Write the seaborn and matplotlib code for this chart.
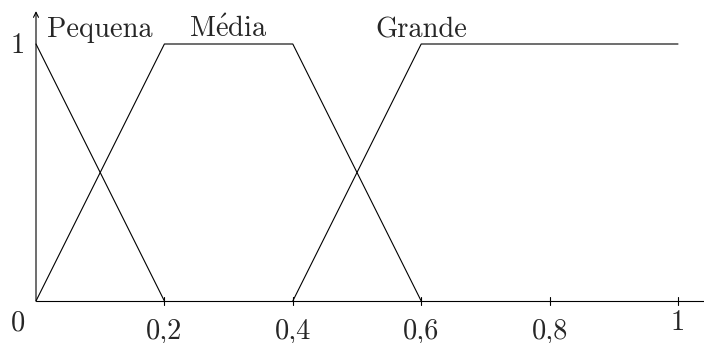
import matplotlib
matplotlib.use("Agg")
import matplotlib.pyplot as plt
import seaborn as sns
import pandas as pd

# Membership functions of the three fuzzy sets
pequena_x = [0.0, 0.2]
pequena_y = [1.0, 0.0]
media_x = [0.0, 0.2, 0.4, 0.6]
media_y = [0.0, 1.0, 1.0, 0.0]
grande_x = [0.4, 0.6, 1.0]
grande_y = [0.0, 1.0, 1.0]

set_names = ["Pequena", r"$\mathrm{M\acute{e}dia}$", "Grande"]
set_label_x = [0.1, 0.3, 0.6]

x_ticks = [0.2, 0.4, 0.6, 0.8, 1.0]
x_tick_labels = ["0,2", "0,4", "0,6", "0,8", "1"]

sns.set_style("white")
plt.rcParams["font.family"] = ["cmr10", "DejaVu Serif"]
plt.rcParams["mathtext.fontset"] = "cm"
plt.rcParams["axes.formatter.use_mathtext"] = True

df = pd.concat([
    pd.DataFrame({"x": pequena_x, "y": pequena_y, "set": "Pequena"}),
    pd.DataFrame({"x": media_x, "y": media_y, "set": "Media"}),
    pd.DataFrame({"x": grande_x, "y": grande_y, "set": "Grande"}),
])

fig = plt.figure(figsize=(7.04, 3.43), dpi=100)
ax = fig.add_axes([0, 0, 1, 1])
ax.set_xlim(-36 / 642, 668 / 642)
ax.set_ylim(-42 / 257, 301 / 257)
ax.axis("off")

sns.lineplot(data=df, x="x", y="y", units="set", estimator=None, sort=False,
             color="black", linewidth=0.8, ax=ax, legend=False)

# axes
ax.plot([0, 668 / 642], [0, 0], color="black", linewidth=0.8)
ax.annotate("", xy=(0, 1.128), xytext=(0, 0),
            arrowprops=dict(arrowstyle="->", color="black", lw=0.8,
                            shrinkA=0, shrinkB=0, mutation_scale=9))

# ticks
tick_half = 4 / 257
for t in x_ticks:
    ax.plot([t, t], [-tick_half, tick_half], color="black", linewidth=0.8)

fs = 20.5
for t, lab in zip(x_ticks, x_tick_labels):
    yb = -0.113 if lab == "1" else -0.145
    ax.text(t, yb, lab, ha="center", va="baseline", fontsize=fs)
ax.text(-0.028, -0.113, "0", ha="center", va="baseline", fontsize=fs)
ax.text(-0.028, 0.965, "1", ha="center", va="baseline", fontsize=fs)

for name, lx in zip(set_names, set_label_x):
    ax.text(lx, 1.027, name, ha="center", va="baseline", fontsize=fs)

fig.savefig("out.png", dpi=100)
